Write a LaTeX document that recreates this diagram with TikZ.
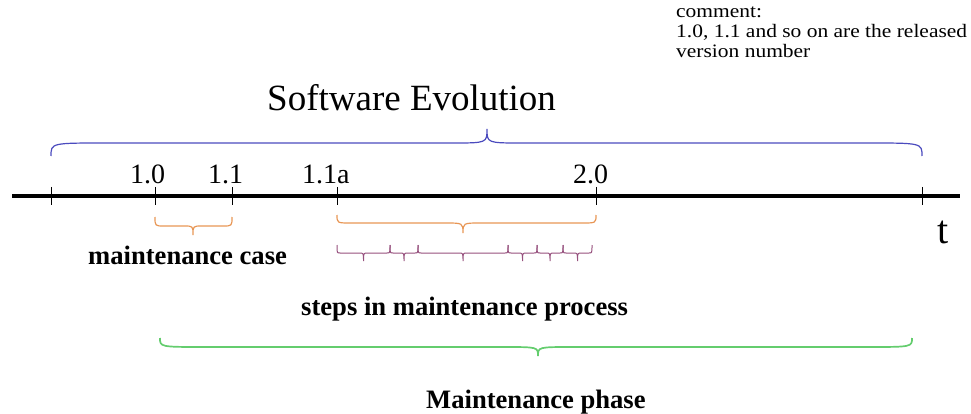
\documentclass[tikz,border=0pt]{standalone}
\usepackage{fontspec}
\setmainfont{Liberation Serif}
\definecolor{bluebr}{RGB}{75,75,190}
\definecolor{orangebr}{RGB}{232,150,85}
\definecolor{purplebr}{RGB}{150,80,125}
\definecolor{greenbr}{RGB}{100,205,110}
% #1 style, #2 x1, #3 x2, #4 xtip, #5 yend, #6 yline, #7 ytip, #8 end radius, #9 tip radius
\newcommand\mybrace[9]{%
  \draw[#1] (#2,#5) .. controls (#2,#6) and (#2,#6) .. ({#2+#8},#6) -- ({#4-#9},#6)
    .. controls (#4,#6) and (#4,#6) .. (#4,#7)
    .. controls (#4,#6) and (#4,#6) .. ({#4+#9},#6) -- ({#3-#8},#6)
    .. controls (#3,#6) and (#3,#6) .. (#3,#5);}
\begin{document}
\begin{tikzpicture}[x=1pt,y=-1pt,
  tick/.style={line width=0.9pt},
  lbl/.style={anchor=base west,inner sep=0pt,font=\fontsize{28}{30}\selectfont},
  boldlbl/.style={anchor=base west,inner sep=0pt,font=\fontsize{26.6}{28}\selectfont\bfseries},
  cmt/.style={anchor=base west,inner sep=0pt}]
\useasboundingbox (0,0) rectangle (971,414);
% comment
\node[cmt] (c1) at (676,18) {\scalebox{1.13}[1]{\fontsize{19}{20}\selectfont comment:}};
\node[cmt] (c2) at (676,38) {\scalebox{1.13}[1]{\fontsize{19}{20}\selectfont 1.0, 1.1 and so on are the released}};
\node[cmt] (c3) at (676,58) {\scalebox{1.13}[1]{\fontsize{19}{20}\selectfont version number}};
% title
\node[anchor=base west,inner sep=0pt,font=\fontsize{37}{40}\selectfont] (title) at (267,111) {Software Evolution};
\mybrace{bluebr,line width=1.2pt}{51}{922}{487}{156}{143}{129}{55}{35}
% time axis
\coordinate (a0) at (12,196);
\coordinate (a1) at (960,196);
\draw[line width=4.5pt] (a0) -- (a1);
\foreach \x/\n in {51/t0,155/t1,232/t2,337/t3,596/t4,922/t5}{
  \coordinate (\n) at (\x,196);
  \draw[tick] (\x,187) -- (\x,205);
}
\node[lbl] (l10) at (130,184) {1.0};
\node[lbl] (l11) at (208,184) {1.1};
\node[lbl] (l11a) at (302,184) {1.1a};
\node[lbl] (l20) at (573,184) {2.0};
\node[anchor=base west,inner sep=0pt,font=\fontsize{40}{42}\selectfont] (tl) at (937,243) {t};
% orange braces
\mybrace{orangebr,line width=1.2pt}{155}{232}{193}{217}{226}{235}{9}{9}
\mybrace{orangebr,line width=1.2pt}{337}{596}{463}{215}{223}{233}{14}{18}
% purple step braces
\foreach \a/\b in {337/390,390/418,418/508,508/537,537/563,563/592}{
  \pgfmathsetmacro\m{(\a+\b)/2}
  \mybrace{purplebr,line width=1pt}{\a}{\b}{\m}{245}{253}{261}{3}{4}
}
\node[boldlbl] (mcase) at (88,264) {maintenance case};
\node[boldlbl] (steps) at (301,315) {steps in maintenance process};
% green brace
\mybrace{greenbr,line width=1.7pt}{160}{912}{538}{338}{347}{356}{45}{35}
\node[boldlbl] (mphase) at (426,408) {Maintenance phase};
\end{tikzpicture}
\end{document}
